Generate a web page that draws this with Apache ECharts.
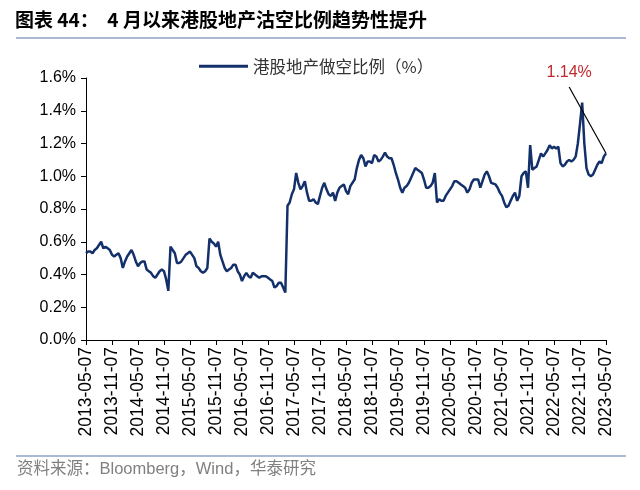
<!DOCTYPE html>
<html>
<head>
<meta charset="utf-8">
<script src="https://cdn.jsdelivr.net/npm/echarts@6/dist/echarts.min.js"></script>
<style>
	body { margin: 0; background: #fff; }
	#chart { width: 640px; height: 490px; }
</style>
</head>
<body>
<div id="chart"></div>
<script>
	// 半月一个点: 2013-05-07 ... 2023-05-07
	var dates = []
	for (var y = 2013, m = 5; y < 2023 || (y == 2023 && m <= 5); m++) {
		if (m > 12) { m = 1; y++ }
		if (y == 2023 && m > 5) break
		var mm = (m < 10 ? '0' : '') + m
		dates.push(y + '-' + mm + '-07')
		if (!(y == 2023 && m == 5)) dates.push(y + '-' + mm + '-22')
	}

	var tickLabels = ['2013-05-07', '2013-11-07', '2014-05-07', '2014-11-07', '2015-05-07', '2015-11-07',
		'2016-05-07', '2016-11-07', '2017-05-07', '2017-11-07', '2018-05-07', '2018-11-07', '2019-05-07',
		'2019-11-07', '2020-05-07', '2020-11-07', '2021-05-07', '2021-11-07', '2022-05-07', '2022-11-07',
		'2023-05-07']

	var yTicks = [0, 0.2, 0.4, 0.6, 0.8, 1.0, 1.2, 1.4, 1.6]

	// 港股地产做空比例（%）
	var shortRatio = [
		0.53, 0.54, 0.54, 0.53, 0.55, 0.56, 0.58, 0.60, 0.56, 0.57,
		0.56, 0.55, 0.52, 0.51, 0.52, 0.53, 0.50, 0.44, 0.48, 0.51,
		0.53, 0.55, 0.52, 0.48, 0.45, 0.47, 0.48, 0.48, 0.43, 0.42,
		0.41, 0.39, 0.38, 0.40, 0.42, 0.43, 0.42, 0.37, 0.30, 0.57,
		0.55, 0.53, 0.47, 0.47, 0.48, 0.50, 0.52, 0.53, 0.54, 0.52,
		0.50, 0.45, 0.44, 0.42, 0.41, 0.42, 0.44, 0.62, 0.60, 0.59,
		0.57, 0.60, 0.52, 0.48, 0.44, 0.42, 0.43, 0.44, 0.46, 0.46,
		0.42, 0.40, 0.36, 0.39, 0.41, 0.39, 0.38, 0.41, 0.40, 0.39,
		0.38, 0.39, 0.39, 0.39, 0.38, 0.37, 0.36, 0.32, 0.33, 0.35,
		0.35, 0.32, 0.29, 0.82, 0.84, 0.89, 0.92, 1.02, 0.96, 0.92,
		0.94, 0.97, 0.90, 0.85, 0.85, 0.86, 0.84, 0.83, 0.88, 0.93,
		0.96, 0.92, 0.89, 0.88, 0.90, 0.85, 0.90, 0.93, 0.94, 0.95,
		0.91, 0.89, 0.94, 0.96, 0.98, 1.05, 1.10, 1.13, 1.11, 1.06,
		1.09, 1.09, 1.08, 1.13, 1.12, 1.09, 1.10, 1.12, 1.145, 1.12,
		1.11, 1.11, 1.07, 1.02, 0.98, 0.93, 0.90, 0.93, 0.94, 0.96,
		0.99, 1.02, 1.05, 1.04, 1.03, 1.02, 0.98, 0.93, 0.93, 0.94,
		0.96, 1.02, 0.84, 0.86, 0.85, 0.85, 0.88, 0.90, 0.92, 0.94,
		0.97, 0.97, 0.96, 0.95, 0.94, 0.93, 0.90, 0.92, 0.96, 0.98,
		0.98, 0.98, 0.93, 0.97, 1.01, 1.03, 1.00, 0.96, 0.955, 0.95,
		0.93, 0.90, 0.88, 0.84, 0.81, 0.82, 0.85, 0.88, 0.90, 0.85,
		0.88, 1.00, 1.02, 1.03, 0.93, 1.19, 1.04, 1.05, 1.06, 1.10,
		1.14, 1.12, 1.14, 1.16, 1.19, 1.17, 1.18, 1.17, 1.18, 1.08,
		1.06, 1.07, 1.09, 1.10, 1.09, 1.10, 1.12, 1.20, 1.32, 1.45,
		1.20, 1.05, 1.01, 1.00, 1.01, 1.04, 1.07, 1.09, 1.08, 1.12,
		1.14
	]

	var lastIdx = shortRatio.length - 1
	var lastVal = shortRatio[lastIdx]
	// 标注文字位置（数据坐标）
	var noteAt = [dates[223], 1.545]

	var chart = echarts.init(document.getElementById('chart'))

	var latin = 'Liberation Sans, Arial, Noto Sans CJK SC'

	chart.setOption({
		animation: false,
		backgroundColor: '#fff',
		graphic: [
			{
				type: 'text', left: 15, top: 10,
				style: {
					text: '图表 44：  4 月以来港股地产沽空比例趋势性提升',
					font: 'bold 19px "Noto Sans CJK SC"', fill: '#000'
				}
			},
			{
				type: 'line', shape: { x1: 16, y1: 38, x2: 626, y2: 38 },
				style: { stroke: '#8fa3c4', lineWidth: 1.5 }
			},
			{
				type: 'line', shape: { x1: 16, y1: 456, x2: 626, y2: 456 },
				style: { stroke: '#8fa3c4', lineWidth: 1.5 }
			},
			{
				type: 'text', left: 17, top: 461,
				style: {
					text: '资料来源：Bloomberg，Wind，华泰研究',
					font: '16.5px ' + latin, fill: '#808080'
				}
			}
		],
		legend: {
			left: 194,
			top: 53,
			icon: 'rect',
			itemWidth: 49,
			itemHeight: 3,
			itemGap: 8,
			textStyle: { fontSize: 16.5, color: '#333', fontFamily: 'Noto Sans CJK SC' }
		},
		grid: {
			left: 86,
			right: 34,
			top: 78,
			bottom: 150
		},
		xAxis: {
			type: 'category',
			data: dates,
			boundaryGap: false,
			axisLine: { lineStyle: { color: '#000', width: 1 } },
			axisTick: {
				length: 5,
				lineStyle: { color: '#000' },
				interval: function(i, v) { return tickLabels.indexOf(v) >= 0 }
			},
			axisLabel: {
				rotate: 90,
				margin: 7,
				color: '#000',
				fontSize: 17.5,
				fontFamily: latin,
				interval: function(i, v) { return tickLabels.indexOf(v) >= 0 }
			}
		},
		yAxis: {
			type: 'value',
			min: yTicks[0],
			max: yTicks[yTicks.length - 1],
			interval: 0.2,
			axisLine: { show: true, lineStyle: { color: '#000', width: 1 } },
			axisTick: { show: true, length: 5, lineStyle: { color: '#000' } },
			splitLine: { show: false },
			axisLabel: {
				margin: 10,
				color: '#000',
				fontSize: 16,
				fontFamily: latin,
				formatter: function(v) { return v.toFixed(1) + '%' }
			}
		},
		series: [{
			name: '港股地产做空比例（%）',
			type: 'line',
			data: shortRatio,
			showSymbol: false,
			symbol: 'none',
			color: '#14306b',
			lineStyle: { width: 2.5, color: '#14306b' },
			markLine: {
				silent: true,
				symbol: ['none', 'none'],
				label: { show: false },
				lineStyle: { color: '#000', width: 1.2, type: 'solid' },
				data: [[{ coord: [dates[lastIdx], lastVal] }, { coord: noteAt }]]
			},
			markPoint: {
				silent: true,
				symbol: 'circle',
				symbolSize: 0,
				label: {
					show: true,
					position: 'top',
					distance: 6,
					color: '#c0282d',
					fontSize: 16,
					fontFamily: latin,
					formatter: lastVal.toFixed(2) + '%'
				},
				data: [{ coord: noteAt }]
			}
		}]
	})
</script>
</body>
</html>
